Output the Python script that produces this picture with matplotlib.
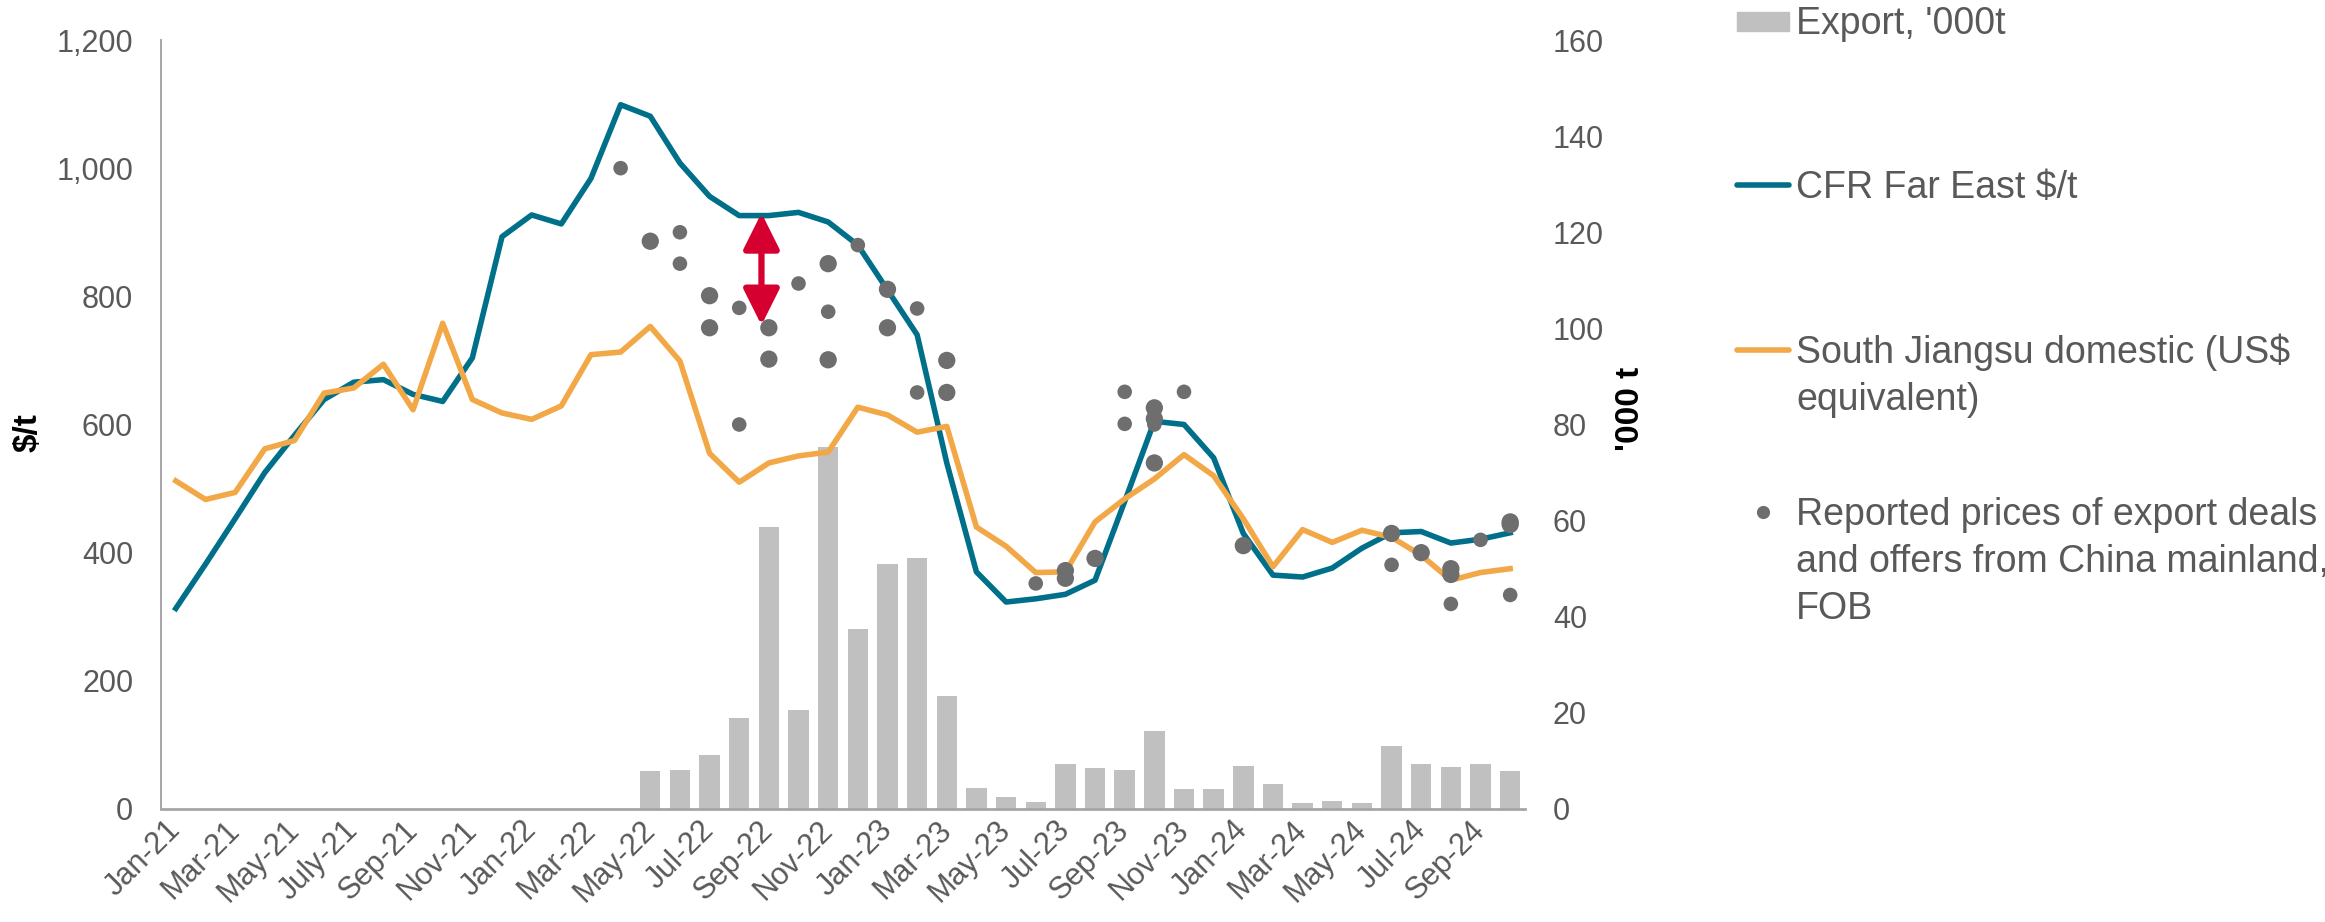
import matplotlib
matplotlib.use("Agg")
import matplotlib.pyplot as plt
from matplotlib.lines import Line2D
from matplotlib.patches import Rectangle
from matplotlib.transforms import ScaledTranslation
import numpy as np

plt.rcParams['font.family'] = ['Liberation Sans', 'DejaVu Sans']

# ---- data ----
months = ['Jan-21', 'Feb-21', 'Mar-21', 'Apr-21', 'May-21', 'Jun-21', 'July-21', 'Aug-21',
          'Sep-21', 'Oct-21', 'Nov-21', 'Dec-21', 'Jan-22', 'Feb-22', 'Mar-22', 'Apr-22',
          'May-22', 'Jun-22', 'Jul-22', 'Aug-22', 'Sep-22', 'Oct-22', 'Nov-22', 'Dec-22',
          'Jan-23', 'Feb-23', 'Mar-23', 'Apr-23', 'May-23', 'Jun-23', 'Jul-23', 'Aug-23',
          'Sep-23', 'Oct-23', 'Nov-23', 'Dec-23', 'Jan-24', 'Feb-24', 'Mar-24', 'Apr-24',
          'May-24', 'Jun-24', 'Jul-24', 'Aug-24', 'Sep-24', 'Oct-24']

export_kt = [0, 0, 0, 0, 0, 0, 0, 0, 0, 0, 0, 0, 0, 0, 0, 0,
             8.0, 8.2, 11.3, 19.0, 58.6, 20.7, 75.4, 37.4, 50.9, 52.3, 23.6, 4.3,
             2.4, 1.5, 9.4, 8.6, 8.1, 16.2, 4.1, 4.2, 9.0, 5.2, 1.3, 1.7,
             1.2, 13.2, 9.4, 8.8, 9.4, 7.9]

cfr_far_east = [313, 382, 453, 525, 583, 639, 666, 670, 647, 636, 704, 893, 927, 913, 984, 1099,
                1081, 1008, 956, 926, 926, 931, 916, 880, 810, 740, 540, 370,
                323, 328, 335, 357, 480, 605, 600, 548, 430, 365, 362, 376,
                407, 431, 433, 415, 421, 431]

south_jiangsu = [512, 483, 494, 562, 575, 649, 657, 694, 623, 758, 639, 618, 608, 629, 709, 713,
                 753, 699, 555, 510, 540, 551, 557, 627, 615, 588, 597, 440,
                 410, 369, 370, 448, 484, 515, 553, 520, 453, 378, 436, 416,
                 435, 424, 396, 357, 369, 375]

# reported export deals / offers (FOB), two marker sizes in the original
deal_months_big = ['May-22', 'Jul-22', 'Jul-22', 'Sep-22', 'Sep-22', 'Nov-22', 'Nov-22', 'Jan-23',
                   'Jan-23', 'Mar-23', 'Mar-23', 'Jul-23', 'Jul-23', 'Aug-23', 'Oct-23', 'Oct-23',
                   'Oct-23', 'Jan-24', 'Jun-24', 'Jul-24', 'Aug-24', 'Aug-24', 'Oct-24', 'Oct-24']
deal_prices_big = [886, 801, 751, 751, 702, 851, 701, 811, 751, 700, 650, 372, 360, 391, 626, 609,
                   540, 411, 430, 400, 375, 366, 448, 444]
deal_months_small = ['Apr-22', 'Jun-22', 'Jun-22', 'Aug-22', 'Aug-22', 'Oct-22', 'Nov-22', 'Dec-22',
                     'Feb-23', 'Feb-23', 'Jun-23', 'Sep-23', 'Sep-23', 'Oct-23', 'Nov-23', 'Jun-24',
                     'Aug-24', 'Sep-24', 'Oct-24']
deal_prices_small = [1000, 900, 851, 782, 600, 820, 776, 880, 781, 650, 352, 651, 601, 600, 651, 381,
                     320, 420, 334]

tick_labels = ['Jan-21', 'Mar-21', 'May-21', 'July-21', 'Sep-21', 'Nov-21', 'Jan-22', 'Mar-22',
               'May-22', 'Jul-22', 'Sep-22', 'Nov-22', 'Jan-23', 'Mar-23', 'May-23', 'Jul-23',
               'Sep-23', 'Nov-23', 'Jan-24', 'Mar-24', 'May-24', 'Jul-24', 'Sep-24']

# spread arrow (between Aug-22 and Sep-22)
arrow_month = 'Sep-22'
arrow_top = 930
arrow_bottom = 755

# ---- colours ----
BLUE = '#006F89'
ORANGE = '#F2A846'
GREY_BAR = '#C0C0C0'
DOT = '#6E6E6E'
RED = '#D5002F'
TXT = '#595959'
AXC = '#A6A6A6'

W, H = 2325, 922
fig = plt.figure(figsize=(W / 100, H / 100), dpi=100)
ax = fig.add_axes([161 / W, 1 - 809 / H, (1525 - 161) / W, (809 - 40) / H])
ax2 = ax.twinx()

x = np.arange(len(months))

# bars on right axis, behind the lines
ax2.bar(x, export_kt, width=0.69, color=GREY_BAR, zorder=1)
ax2.set_ylim(0, 160)
ax2.set_yticks(np.arange(0, 161, 20))
ax.set_zorder(ax2.get_zorder() + 1)
ax.patch.set_visible(False)

ax.plot(x, cfr_far_east, color=BLUE, lw=4.0, zorder=3)
ax.plot(x, south_jiangsu, color=ORANGE, lw=4.0, zorder=3)

xb = [months.index(m) for m in deal_months_big]
xs = [months.index(m) for m in deal_months_small]
ax.scatter(xb, deal_prices_big, s=155, color=DOT, edgecolors='none', zorder=4)
ax.scatter(xs, deal_prices_small, s=110, color=DOT, edgecolors='none', zorder=4)

ax_x = months.index(arrow_month) - 0.25
ax.annotate('', xy=(ax_x, arrow_bottom), xytext=(ax_x, arrow_top),
            arrowprops=dict(arrowstyle='<|-|>,head_length=2.2,head_width=1.1',
                            mutation_scale=10, color=RED, lw=4.5,
                            shrinkA=0, shrinkB=0), zorder=5)

ax.set_xlim(-0.5, len(months) - 0.5)
ax.set_ylim(0, 1200)
ax.set_yticks(np.arange(0, 1201, 200))
ax.yaxis.set_major_formatter(matplotlib.ticker.StrMethodFormatter('{x:,.0f}'))
ax.set_xticks([months.index(m) for m in tick_labels])
ax.set_xticklabels(tick_labels, rotation=45, ha='right', va='center', rotation_mode='anchor')
shift = ScaledTranslation(9 / 100, 0, fig.dpi_scale_trans)
for lab in ax.get_xticklabels():
    lab.set_transform(lab.get_transform() + shift)

for a in (ax, ax2):
    for s in ('top', 'right', 'left', 'bottom'):
        a.spines[s].set_visible(False)
ax.spines['left'].set_visible(True)
ax.spines['left'].set_color(AXC)
ax.spines['left'].set_linewidth(1.4)
ax.spines['bottom'].set_visible(True)
ax.spines['bottom'].set_color(AXC)
ax.spines['bottom'].set_linewidth(2.0)

ax.tick_params(axis='y', length=0, pad=20, labelsize=22, labelcolor=TXT)
ax.tick_params(axis='x', length=0, pad=12, labelsize=22, labelcolor=TXT)
ax2.tick_params(axis='y', length=0, pad=20, labelsize=22, labelcolor=TXT)

ax.set_ylabel('$/t', fontsize=24, fontweight='bold', color='black')
ax.yaxis.set_label_coords(-0.086, 0.49)
ax2.set_ylabel("'000 t", fontsize=24, fontweight='bold', color='black', rotation=90)
ax2.yaxis.set_label_coords(1.066, 0.52)

# ---- legend (built by hand to keep the original spacing) ----
leg_labels = ["Export, '000t", "CFR Far East $/t", "South Jiangsu domestic (US$\nequivalent)",
              "Reported prices of export deals\nand offers from China mainland,\nFOB"]
leg_first_line = [21, 185, 350, 512]
line_gap = 47
for lab, yc in zip(leg_labels, leg_first_line):
    for i, part in enumerate(lab.split('\n')):
        fig.text(1796 / W, 1 - (yc + i * line_gap + 13) / H, part, fontsize=27,
                 color=TXT, va='baseline', ha='left')

fig.add_artist(Rectangle((1737 / W, 1 - 31 / H), 52 / W, 19 / H, color=GREY_BAR,
                         transform=fig.transFigure))
fig.add_artist(Line2D([1737 / W, 1789 / W], [1 - 185 / H] * 2, color=BLUE, lw=4.0,
                      solid_capstyle='round', transform=fig.transFigure))
fig.add_artist(Line2D([1737 / W, 1789 / W], [1 - 350 / H] * 2, color=ORANGE, lw=4.0,
                      solid_capstyle='round', transform=fig.transFigure))
fig.add_artist(Line2D([1763 / W], [1 - 512 / H], marker='o', markersize=9.5, color=DOT,
                      markeredgewidth=0, transform=fig.transFigure))

fig.savefig('out.png', dpi=100)
